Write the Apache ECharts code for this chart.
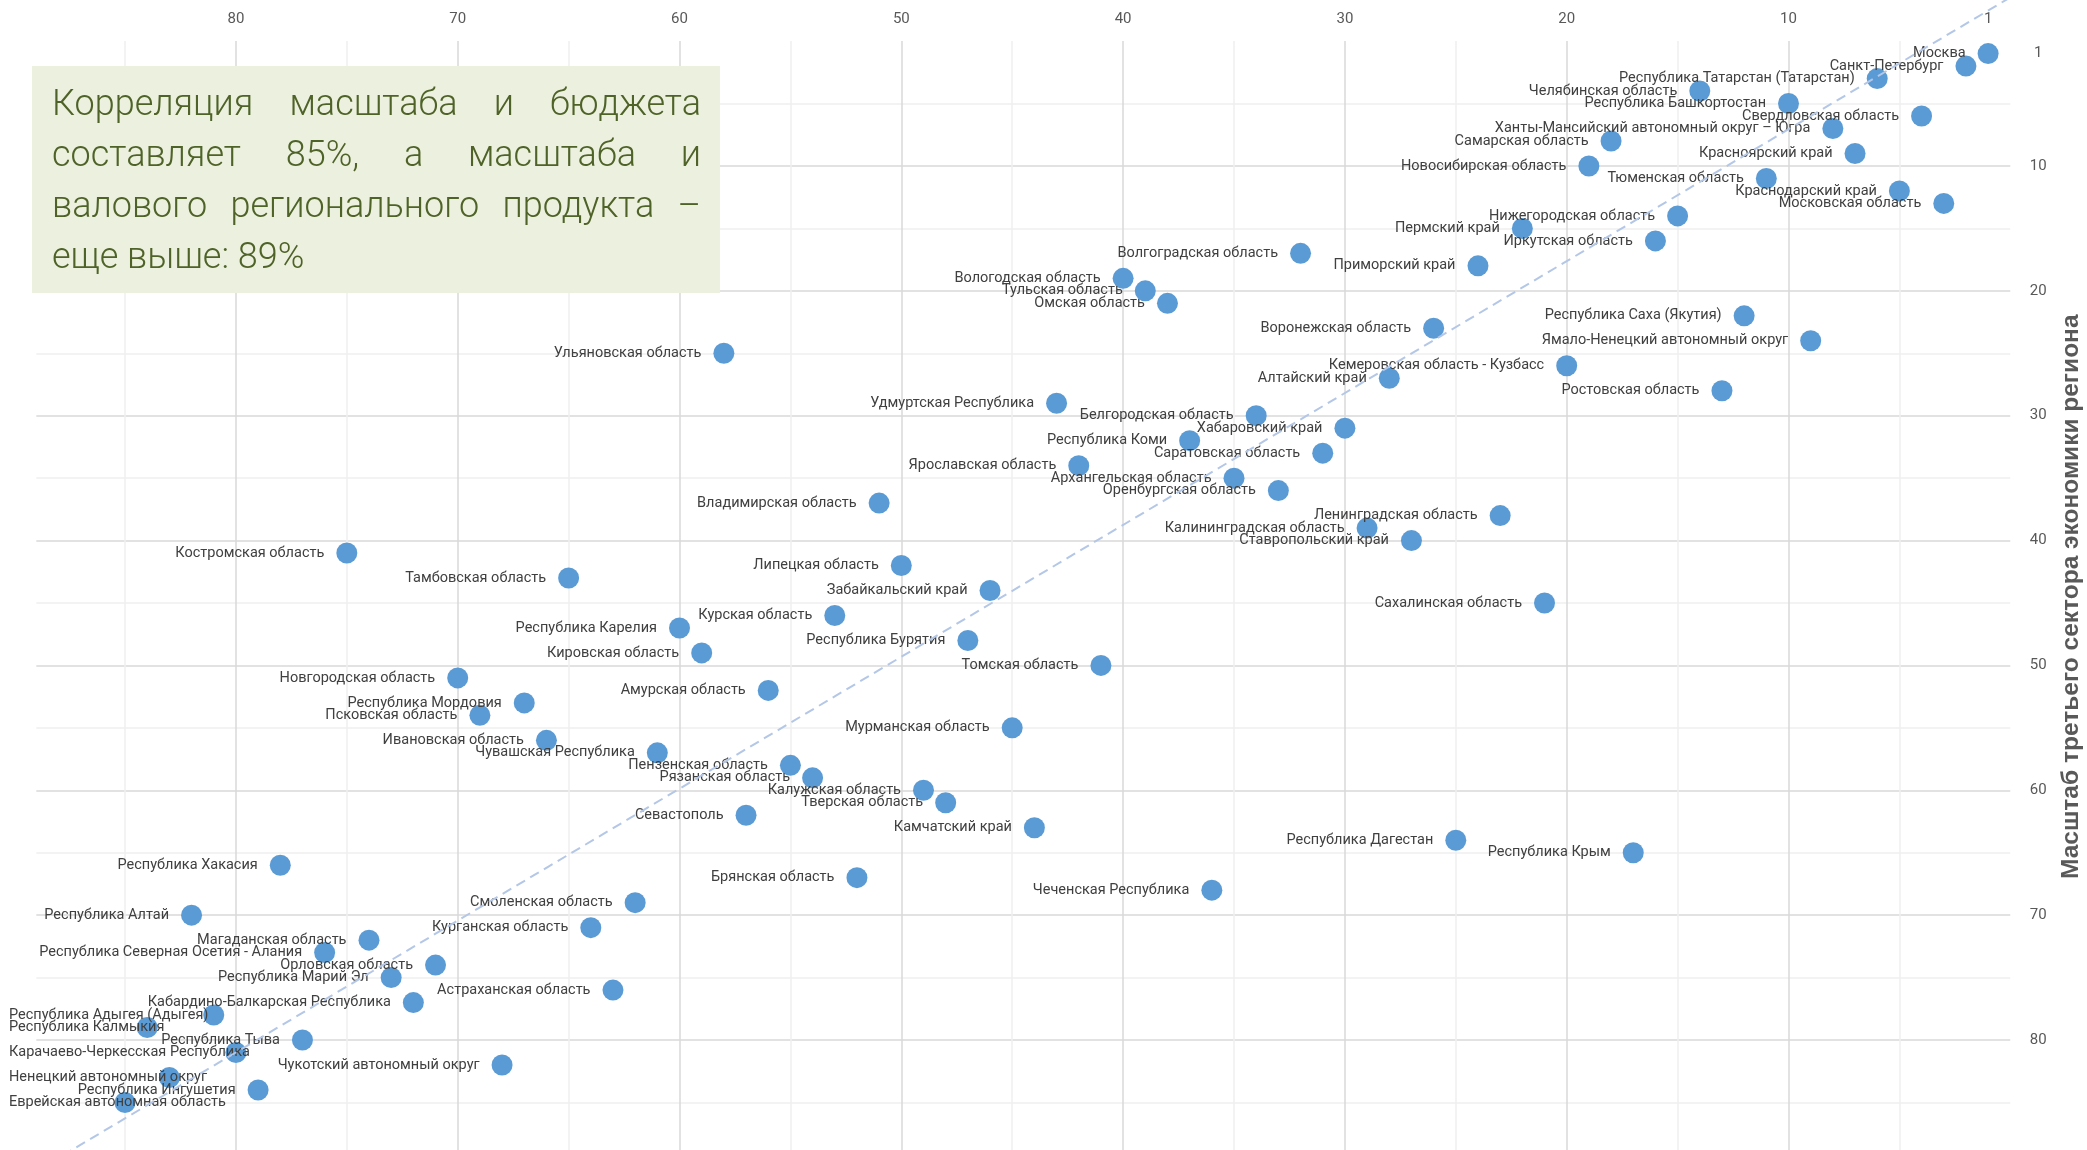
<!DOCTYPE html>
<html><head><meta charset="utf-8">
<script src="https://cdn.jsdelivr.net/npm/echarts@6/dist/echarts.min.js"></script>
<style>html,body{margin:0;padding:0;background:#fff}#chart{width:2087px;height:1150px}</style>
</head><body><div id="chart"></div>
<script>
const regionNames = [
 'Москва','Санкт-Петербург','Республика Татарстан (Татарстан)','Челябинская область','Республика Башкортостан',
 'Свердловская область','Ханты-Мансийский автономный округ – Югра','Самарская область','Красноярский край','Новосибирская область',
 'Тюменская область','Краснодарский край','Московская область','Нижегородская область','Пермский край',
 'Иркутская область','Волгоградская область','Приморский край','Вологодская область','Тульская область',
 'Омская область','Республика Саха (Якутия)','Воронежская область','Ямало-Ненецкий автономный округ','Ульяновская область',
 'Кемеровская область - Кузбасс','Алтайский край','Ростовская область','Удмуртская Республика','Белгородская область',
 'Хабаровский край','Республика Коми','Саратовская область','Ярославская область','Архангельская область',
 'Оренбургская область','Владимирская область','Ленинградская область','Калининградская область','Ставропольский край',
 'Костромская область','Липецкая область','Тамбовская область','Забайкальский край','Сахалинская область',
 'Курская область','Республика Карелия','Республика Бурятия','Кировская область','Томская область',
 'Новгородская область','Амурская область','Республика Мордовия','Псковская область','Мурманская область',
 'Ивановская область','Чувашская Республика','Пензенская область','Рязанская область','Калужская область',
 'Тверская область','Севастополь','Камчатский край','Республика Дагестан','Республика Крым',
 'Республика Хакасия','Брянская область','Чеченская Республика','Смоленская область','Республика Алтай',
 'Курганская область','Магаданская область','Республика Северная Осетия - Алания','Орловская область','Республика Марий Эл',
 'Астраханская область','Кабардино-Балкарская Республика','Республика Адыгея (Адыгея)','Республика Калмыкия','Республика Тыва',
 'Карачаево-Черкесская Республика','Чукотский автономный округ','Ненецкий автономный округ','Республика Ингушетия','Еврейская автономная область'
];
const xRank = [
 1,2,6,14,10, 4,8,18,7,19, 11,5,3,15,22, 16,32,24,40,39,
 38,12,26,9,58, 20,28,13,43,34, 30,37,31,42,35, 33,51,23,29,27,
 75,50,65,46,21, 53,60,47,59,41, 70,56,67,69,45, 66,61,55,54,49,
 48,57,44,25,17, 78,52,36,62,82, 64,74,76,71,73, 63,72,81,84,77,
 80,68,83,79,85
];
const yRank = [
 1,2,3,4,5, 6,7,8,9,10, 11,12,13,14,15, 16,17,18,19,20,
 21,22,23,24,25, 26,27,28,29,30, 31,32,33,34,35, 36,37,38,39,40,
 41,42,43,44,45, 46,47,48,49,50, 51,52,53,54,55, 56,57,58,59,60,
 61,62,63,64,65, 66,67,68,69,70, 71,72,73,74,75, 76,77,78,79,80,
 81,82,83,84,85
];
const xTickLabels = [1,10,20,30,40,50,60,70,80];
const yTickLabels = [1,10,20,30,40,50,60,70,80];
const trendLine = [[0,-3.5],[89,90.5]];
const noteLines = ['Корреляция масштаба и бюджета','составляет 85%, а масштаба и','валового регионального продукта –','еще выше: 89%'];
const yAxisTitle = 'Масштаб третьего сектора экономики региона';

const chart = echarts.init(document.getElementById('chart'), null, {renderer:'canvas'});

// annotation box (justified text)
const noteFont = '300 36px Roboto';
const mctx = document.createElement('canvas').getContext('2d');
mctx.font = noteFont;
const boxX = 32, boxY = 66, boxW = 688, boxH = 227;
const textL = 52, textR = 701, lineY0 = 106, lineStep = 51;
const noteEls = [{type:'rect', shape:{x:boxX,y:boxY,width:boxW,height:boxH}, style:{fill:'#EBF1DE'}, z:100}];
noteLines.forEach((ln, li) => {
  const words = ln.split(' ');
  const widths = words.map(w => mctx.measureText(w).width);
  const total = widths.reduce((a,b)=>a+b,0);
  const isLast = li === noteLines.length - 1;
  const gap = isLast ? mctx.measureText(' ').width : (textR - textL - total) / (words.length - 1);
  let x = textL;
  words.forEach((w, wi) => {
    noteEls.push({type:'text', x:x, y:lineY0 + li*lineStep, z:101,
      style:{text:w, font:noteFont, fill:'#4F6228', align:'left', verticalAlign:'middle'}});
    x += widths[wi] + gap;
  });
});

const points = regionNames.map((n,i) => ({name:n, value:[xRank[i], yRank[i]]}));

const option = {
  animation:false,
  backgroundColor:'#ffffff',
  grid:{left:36.3, right:76.7, top:41.1, bottom:-2.4, containLabel:false, outerBoundsMode:'none'},
  xAxis:{type:'value', position:'top', inverse:true, min:0, max:89, interval:5,
    axisLine:{show:false}, axisTick:{show:false},
    axisLabel:{customValues:xTickLabels, color:'#595959', fontFamily:'Roboto', fontSize:15, margin:22, verticalAlign:'middle'},
    splitLine:{show:true, showMinLine:false, showMaxLine:false, lineStyle:{color:['#EFEFEF','#D9D9D9'], width:1.5}}},
  yAxis:{type:'value', position:'right', inverse:true, min:0, max:89, interval:5,
    axisLine:{show:false}, axisTick:{show:false},
    axisLabel:{customValues:yTickLabels, color:'#595959', fontFamily:'Roboto', fontSize:15, margin:28, align:'center'},
    splitLine:{show:true, showMinLine:false, showMaxLine:false, lineStyle:{color:['#EFEFEF','#D9D9D9'], width:1.5}},
    name:yAxisTitle, nameLocation:'middle', nameRotate:90, nameGap:48,
    nameTextStyle:{fontFamily:'Liberation Sans', fontWeight:'bold', fontSize:24.5, color:'#595959'}},
  graphic:noteEls,
  series:[
    {type:'scatter', data:points, symbolSize:21, z:2,
      itemStyle:{color:'#5B9BD5', opacity:1},
      label:{show:true, position:'left', distance:12, formatter:'{b}', color:'#404040', fontFamily:'Roboto', fontSize:14.5},
      labelLayout:function(p){ if (p.labelRect.x < 9) { return {dx: 9 - p.labelRect.x}; } return {}; },
      emphasis:{disabled:true}},
    {type:'line', data:trendLine, showSymbol:false, symbol:'none', z:3, clip:false, silent:true,
      lineStyle:{type:[10,6], color:'#B4C7E7', width:2}}
  ]
};
chart.setOption(option);
</script></body></html>
